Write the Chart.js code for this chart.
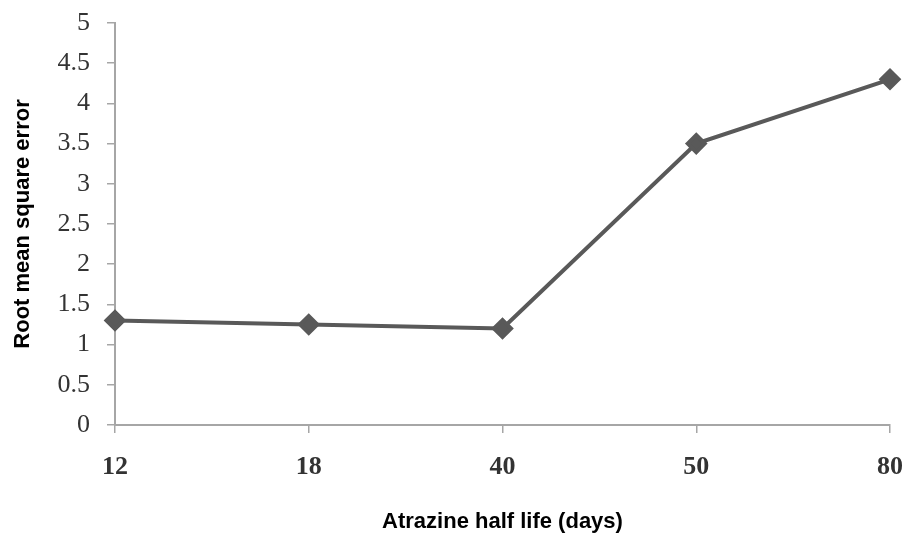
<!DOCTYPE html>
<html><head><meta charset="utf-8">
<script src="https://cdn.jsdelivr.net/npm/chart.js@4/dist/chart.umd.min.js"></script>
<style>html,body{margin:0;padding:0;background:#fff}#wrap{width:906px;height:535px}</style>
</head><body><div id="wrap"><canvas id="c"></canvas></div>
<script>
const categories = ['12', '18', '40', '50', '80'];
const rmseValues = [1.3, 1.25, 1.2, 3.5, 4.3];
const xTitle = 'Atrazine half life (days)';
const yTitle = 'Root mean square error';

const axisColor = '#a6a6a6';
new Chart(document.getElementById('c'), {
  type: 'line',
  data: {
    labels: categories,
    datasets: [{
      data: rmseValues,
      borderColor: '#595959',
      backgroundColor: '#595959',
      borderWidth: 4,
      pointStyle: 'rectRot',
      pointRadius: 8.5,
      pointHoverRadius: 8.5,
      tension: 0
    }]
  },
  options: {
    responsive: true,
    maintainAspectRatio: false,
    animation: false,
    layout: { padding: { top: 23, right: 16, left: 0, bottom: 0 } },
    plugins: { legend: { display: false }, tooltip: { enabled: false } },
    scales: {
      x: {
        type: 'category',
        offset: false,
        grid: { drawOnChartArea: false, drawTicks: true, tickLength: 8, color: axisColor, lineWidth: 1.5 },
        border: { display: true, color: axisColor, width: 2 },
        ticks: { color: '#333', padding: 19, font: { family: 'Liberation Serif', size: 26, weight: 'bold' }, maxRotation: 0 },
        title: { display: true, text: xTitle, color: '#000', font: { family: 'Liberation Sans', size: 22, weight: 'bold' }, padding: { top: 0, bottom: 0 } },
        afterFit: s => { s.height = 110; s.paddingLeft = 0; s.paddingRight = 0; }
      },
      y: {
        min: 0, max: 5,
        grid: { drawOnChartArea: false, drawTicks: true, tickLength: 8, color: axisColor, lineWidth: 1.5 },
        border: { display: true, color: axisColor, width: 2 },
        ticks: { stepSize: 0.5, color: '#333', padding: 17, font: { family: 'Liberation Serif', size: 26 }, callback: v => String(v) },
        title: { display: true, text: yTitle, color: '#000', font: { family: 'Liberation Sans', size: 22, weight: 'bold' }, padding: { top: 10, bottom: 0 } },
        afterFit: s => { s.width = 115; s.paddingTop = 0; s.paddingBottom = 0; }
      }
    }
  }
});
</script></body></html>
